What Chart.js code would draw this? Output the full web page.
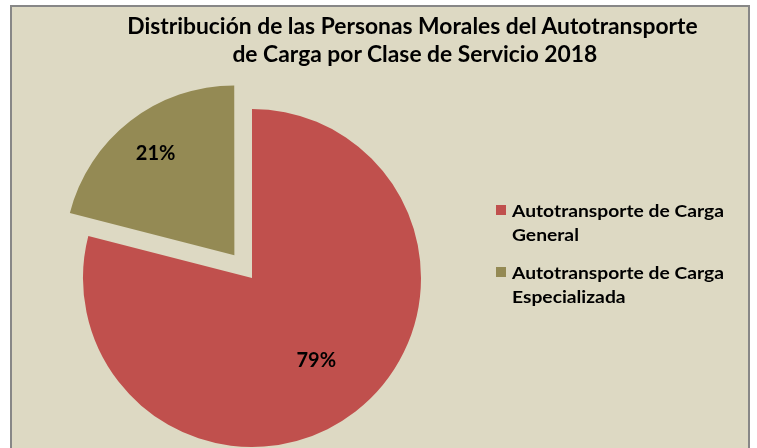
<!DOCTYPE html>
<html>
<head>
<meta charset="utf-8">
<script src="https://cdn.jsdelivr.net/npm/chart.js@4/dist/chart.umd.min.js"></script>
<style>
  html, body { margin: 0; padding: 0; background: #ffffff; width: 757px; height: 448px; overflow: hidden; }
  #frame {
    position: absolute; left: 10px; top: 5px; width: 736px; height: 470px;
    background: #DDD9C3; border: 2px solid #878787;
  }
  #chart { position: absolute; left: 0; top: 0; }
  .title-line {
    position: absolute; left: 0; width: 830px; text-align: center;
    font-family: Lato, sans-serif; font-weight: bold; font-size: 23px; color: #000;
    white-space: pre; line-height: 28px;
  }
  .title-line span { display: inline-block; transform-origin: center; }
  #legend { position: absolute; left: 496px; top: 199px; font-family: Lato, sans-serif; }
  .leg-item { position: relative; margin-bottom: 14px; }
  .leg-box { position: absolute; left: 0; top: 6px; width: 10px; height: 10px; }
  .leg-text { position: absolute; left: 16px; top: 0; font-weight: bold; font-size: 17px; line-height: 24px; color: #000; white-space: pre; }
  .leg-text span { display: block; transform-origin: left center; }
</style>
</head>
<body>
<div id="frame"></div>
<canvas id="chart" width="757" height="448"></canvas>
<div class="title-line" style="top: 11px"><span id="t1"></span></div>
<div class="title-line" style="top: 39px"><span id="t2"></span></div>
<div id="legend"></div>

<script>
// ---- data ----
const titleLines = ['Distribución de las Personas Morales del Autotransporte ', 'de Carga por Clase de Servicio 2018'];
const categories = ['Autotransporte de Carga General', 'Autotransporte de Carga Especializada'];
const legendLines = [['Autotransporte de Carga', 'General'], ['Autotransporte de Carga', 'Especializada']];
const shares = [79, 21];
const sliceColors = ['#C0504D', '#948A54'];

document.getElementById('t1').textContent = titleLines[0];
document.getElementById('t2').textContent = titleLines[1];

// squeeze text horizontally to get the narrow look of the original font
function squeeze(el, target) {
  const w = el.getBoundingClientRect().width;
  el.style.transform = `scaleX(${target / w})`;
  return target / w;
}
const k = squeeze(document.getElementById('t1'), 576);
document.getElementById('t2').style.transform = `scaleX(${k})`;

// legend
const legendEl = document.getElementById('legend');
const legTops = [0, 62];
legendLines.forEach((lines, i) => {
  const item = document.createElement('div');
  item.className = 'leg-item';
  item.style.position = 'absolute';
  item.style.top = legTops[i] + 'px';
  item.innerHTML = `<div class="leg-box" style="background:${sliceColors[i]}"></div>
    <div class="leg-text">${lines.map(l => `<span>${l}</span>`).join('')}</div>`;
  legendEl.appendChild(item);
});
const legSpans = legendEl.querySelectorAll('.leg-text span');
const lk = squeeze(legSpans[0], 212);
legSpans.forEach(s => s.style.transform = `scaleX(${lk})`);

// percentage labels inside slices
const sliceLabels = {
  id: 'sliceLabels',
  afterDatasetsDraw(chart, args, opts) {
    const ctx = chart.ctx;
    const meta = chart.getDatasetMeta(0);
    const total = shares.reduce((a, b) => a + b, 0);
    ctx.save();
    ctx.font = 'bold 20px Lato, sans-serif';
    ctx.fillStyle = '#000';
    ctx.textAlign = 'center';
    ctx.textBaseline = 'middle';
    meta.data.forEach((arc, i) => {
      const p = arc.getProps(['x', 'y', 'startAngle', 'endAngle', 'outerRadius'], true);
      const mid = (p.startAngle + p.endAngle) / 2;
      const r = p.outerRadius * opts.radii[i];
      ctx.fillText(Math.round(shares[i] / total * 100) + '%', p.x + Math.cos(mid) * r, p.y + Math.sin(mid) * r);
    });
    ctx.restore();
  }
};

new Chart(document.getElementById('chart'), {
  type: 'pie',
  data: {
    labels: categories,
    datasets: [{
      data: shares,
      backgroundColor: sliceColors,
      borderWidth: 0,
      offset: [0, 115],
      hoverOffset: 0,
      clip: false
    }]
  },
  options: {
    responsive: false,
    animation: false,
    radius: 169,
    layout: { padding: { left: 100, right: 353, top: 130, bottom: 22 } },
    events: [],
    plugins: {
      legend: { display: false },
      title: { display: false },
      tooltip: { enabled: false },
      sliceLabels: { radii: [0.62, 0.93] }
    }
  },
  plugins: [sliceLabels]
});
</script>
</body>
</html>
